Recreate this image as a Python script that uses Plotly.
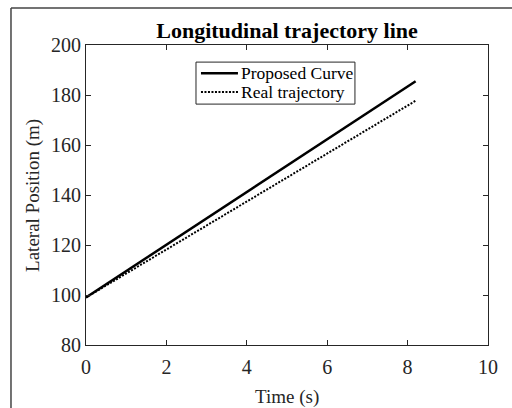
import plotly.graph_objects as go

time_s = [0, 1, 2, 3, 4, 5, 6, 7, 8, 8.2]
proposed_curve = [99, 109.55, 120.1, 130.65, 141.2, 151.75, 162.3, 172.85, 183.4, 185.5]
real_trajectory = [99, 108.6, 118.2, 127.8, 137.4, 147, 156.6, 166.2, 175.8, 177.7]

series_names = ["Proposed Curve", "Real trajectory"]
x_ticks = [0, 2, 4, 6, 8, 10]
y_ticks = [80, 100, 120, 140, 160, 180, 200]

FONT = "Liberation Serif, Times New Roman, serif"
AX = "#262626"
SOLID = dict(color="black", width=2.5)
DOTTED = dict(color="black", width=2, dash="2px,1.5px")
FRAME = dict(color="#444444", width=1.5)

fig = go.Figure()
fig.add_trace(go.Scatter(x=time_s, y=proposed_curve, mode="lines", name=series_names[0], line=SOLID))
fig.add_trace(go.Scatter(x=time_s, y=real_trajectory, mode="lines", name=series_names[1], line=DOTTED))

axis_common = dict(showline=True, linecolor=AX, linewidth=1, mirror="ticks",
                   ticks="inside", ticklen=5, tickcolor=AX, showgrid=False, zeroline=False,
                   tickfont=dict(family=FONT, size=20, color=AX))

# manual legend box (paper coordinates)
lx0, lx1, ly0, ly1 = 0.2736, 0.669, 0.803, 0.943
row_y = [0.906, 0.843]
shapes = [
    # outer figure frame (left and top edges visible in the crop)
    dict(type="line", xref="paper", yref="paper", x0=-0.1866, x1=-0.1866, y0=-0.35, y1=1.1233,
         line=FRAME, layer="below"),
    dict(type="line", xref="paper", yref="paper", x0=-0.1866, x1=1.1, y0=1.1233, y1=1.1233,
         line=FRAME, layer="below"),
    dict(type="rect", xref="paper", yref="paper", x0=lx0, x1=lx1, y0=ly0, y1=ly1,
         line=dict(color=AX, width=1), fillcolor="white", layer="above"),
]
annotations = [
    dict(text="Time (s)", xref="paper", yref="paper", x=0.5, y=-0.173,
         xanchor="center", yanchor="middle", showarrow=False,
         font=dict(family=FONT, size=19, color=AX)),
    dict(text="Lateral Position (m)", xref="paper", yref="paper", x=-0.132, y=0.5,
         xanchor="center", yanchor="middle", textangle=-90, showarrow=False,
         font=dict(family=FONT, size=19, color=AX)),
]
for name, style, ry in zip(series_names, [SOLID, DOTTED], row_y):
    shapes.append(dict(type="line", xref="paper", yref="paper", x0=0.286, x1=0.378, y0=ry, y1=ry,
                       line=style, layer="above"))
    annotations.append(dict(text=name, xref="paper", yref="paper", x=0.381, y=ry,
                            xanchor="left", yanchor="middle", showarrow=False,
                            font=dict(family=FONT, size=17.5, color="black")))

fig.update_layout(
    width=512, height=408,
    margin=dict(l=86, r=24, t=45, b=63),
    paper_bgcolor="white", plot_bgcolor="white",
    title=dict(text="<b>Longitudinal trajectory line</b>", x=0.5, xref="paper",
               y=1 - 30 / 408, yanchor="middle",
               font=dict(family=FONT, size=22, color="black")),
    xaxis=dict(range=[0, 10], tickvals=x_ticks, ticklabelstandoff=4, **axis_common),
    yaxis=dict(range=[80, 200], tickvals=y_ticks, **axis_common),
    showlegend=False,
    annotations=annotations,
    shapes=shapes,
)

fig.write_html("out.html")
